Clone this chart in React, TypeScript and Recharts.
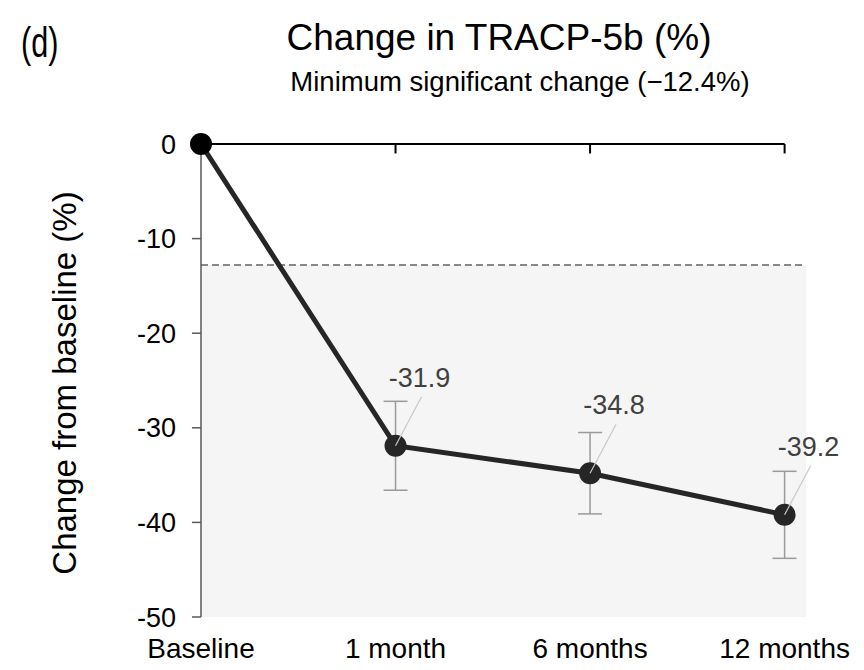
import React from "react";
import {
    ComposedChart,
    Line,
    XAxis,
    YAxis,
    ReferenceArea,
    ReferenceLine,
    ErrorBar,
    LabelList,
} from "recharts";

const categories = ["Baseline", "1 month", "6 months", "12 months"];
const changes = [0, -31.9, -34.8, -39.2];
const errors = [undefined, 4.7, 4.3, 4.6];
const yTicks = [0, -10, -20, -30, -40, -50];
const topTicks = [1, 2, 3];
const minSignificantChange = -12.8;

const FONT = "'Liberation Sans', Arial, sans-serif";

const data = categories.map((name, i) => ({
    x: i,
    name,
    value: changes[i],
    err: errors[i],
}));

const renderDot = (props: any) => {
    const { cx, cy, index } = props;
    return (
        <circle
            key={`dot-${index}`}
            cx={cx}
            cy={cy}
            r={11}
            fill={index === 0 ? "#000000" : "#262626"}
        />
    );
};

const renderLabel = (props: any) => {
    const { x, y, value, index } = props;
    if (index === 0) return null;
    return (
        <g>
            <line x1={x} y1={y} x2={x + 26} y2={y - 49} stroke="#c8c8c8" strokeWidth={1.2} />
            <text
                x={x + 24}
                y={y - 59}
                textAnchor="middle"
                fontSize={27}
                fontFamily={FONT}
                fill="#404040"
            >
                {value}
            </text>
        </g>
    );
};

export default function App() {
    return (
        <div style={{ position: "relative", width: 864, height: 670, margin: -8, background: "#fff" }}>
            <ComposedChart
                width={864}
                height={670}
                data={data}
                margin={{ top: 144, right: 58, bottom: 8, left: 141 }}
            >
                <ReferenceArea
                    x1={0}
                    x2={3.11}
                    y1={minSignificantChange}
                    y2={-50}
                    fill="#f5f5f5"
                    fillOpacity={1}
                    stroke="none"
                    ifOverflow="extendDomain"
                />
                <ReferenceLine
                    y={minSignificantChange}
                    segment={[
                        { x: 0, y: minSignificantChange },
                        { x: 3.05, y: minSignificantChange },
                    ]}
                    stroke="#888888"
                    strokeWidth={2}
                    strokeDasharray="7 4"
                />
                <XAxis
                    dataKey="x"
                    type="number"
                    domain={[0, 3.11]}
                    ticks={[0, 1, 2, 3]}
                    tickFormatter={(v: number) => categories[v]}
                    axisLine={false}
                    tickLine={false}
                    tickMargin={15}
                    height={45}
                    interval={0}
                    tick={{ fontSize: 28, fontFamily: FONT, fill: "#000" }}
                />
                <YAxis
                    type="number"
                    domain={[-50, 0]}
                    ticks={yTicks}
                    width={60}
                    axisLine={{ stroke: "#595959", strokeWidth: 1.5 }}
                    tickLine={{ stroke: "#595959", strokeWidth: 1.5 }}
                    tickSize={9}
                    tickMargin={16}
                    tick={{ fontSize: 27, fontFamily: FONT, fill: "#000" }}
                />
                {/* top axis line with inward ticks */}
                <ReferenceLine
                    segment={[
                        { x: 0, y: 0 },
                        { x: 3, y: 0 },
                    ]}
                    stroke="#000"
                    strokeWidth={2}
                />
                {topTicks.map((t) => (
                    <ReferenceLine
                        key={`tt-${t}`}
                        segment={[
                            { x: t, y: 0 },
                            { x: t, y: -1 },
                        ]}
                        stroke="#000"
                        strokeWidth={2}
                    />
                ))}
                <Line
                    dataKey="value"
                    stroke="#262626"
                    strokeWidth={5}
                    dot={renderDot}
                    activeDot={false}
                    isAnimationActive={false}
                >
                    <ErrorBar dataKey="err" direction="y" width={12} stroke="#9a9a9a" strokeWidth={1.5} />
                    <LabelList dataKey="value" content={renderLabel} />
                </Line>
                <text
                    transform="translate(21, 57) scale(0.9, 1.25)"
                    fontSize={34}
                    fontFamily={FONT}
                    fill="#000"
                >
                    (d)
                </text>
                <text
                    x={499}
                    y={50}
                    textAnchor="middle"
                    fontSize={37}
                    fontFamily={FONT}
                    fill="#000"
                >
                    Change in TRACP-5b (%)
                </text>
                <text
                    x={520}
                    y={91}
                    textAnchor="middle"
                    fontSize={27.5}
                    fontFamily={FONT}
                    fill="#000"
                >
                    Minimum significant change (−12.4%)
                </text>
                <text
                    x={0}
                    y={0}
                    transform="translate(76, 383) rotate(-90)"
                    textAnchor="middle"
                    fontSize={33}
                    fontFamily={FONT}
                    fill="#000"
                >
                    Change from baseline (%)
                </text>
            </ComposedChart>
        </div>
    );
}
